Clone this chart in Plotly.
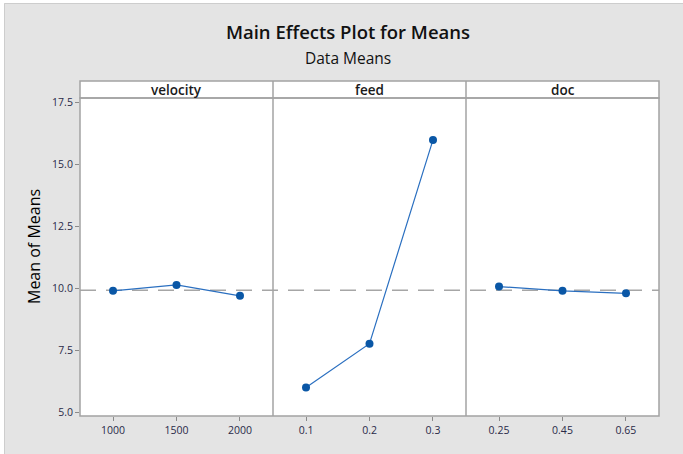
import numpy as np
import plotly.graph_objects as go
from plotly.subplots import make_subplots

# ---- data ----
factors = ["velocity", "feed", "doc"]
velocity_levels = ["1000", "1500", "2000"]
velocity_means = [9.89, 10.13, 9.69]
feed_levels = ["0.1", "0.2", "0.3"]
feed_means = [5.99, 7.76, 15.98]
doc_levels = ["0.25", "0.45", "0.65"]
doc_means = [10.06, 9.89, 9.79]
y_ticks = [5.0, 7.5, 10.0, 12.5, 15.0, 17.5]

levels = [velocity_levels, feed_levels, doc_levels]
means = [velocity_means, feed_means, doc_means]
grand_mean = float(np.mean(velocity_means + feed_means + doc_means))

W, H = 683, 454
ML, MR, MT, MB = 80, 24, 98, 38
PW, PH = W - ML - MR, H - MT - MB


def px(x):
    return (x - ML) / PW


def py(y):
    return (H - MB - y) / PH


FONT = "Open Sans"
BORDER = "#a3a3a3"
TICKFONT = dict(family=FONT, size=10.5, color="#2a2a48")

fig = make_subplots(rows=1, cols=3, shared_yaxes=True, horizontal_spacing=0)

for i, (lv, mv) in enumerate(zip(levels, means)):
    fig.add_trace(
        go.Scatter(
            x=list(range(len(lv))),
            y=mv,
            mode="lines+markers",
            line=dict(color="#2a6fc0", width=1.2),
            marker=dict(color="#0a57a6", size=8, symbol="circle"),
            showlegend=False,
            hoverinfo="skip",
            cliponaxis=False,
        ),
        row=1,
        col=i + 1,
    )
    fig.update_xaxes(
        range=[-0.52, len(lv) - 1 + 0.52],
        tickvals=list(range(len(lv))),
        ticktext=lv,
        showline=False,
        ticks="outside",
        ticklen=4,
        tickcolor="#8a8a8a",
        showgrid=False,
        zeroline=False,
        tickfont=TICKFONT,
        row=1,
        col=i + 1,
    )
    fig.update_yaxes(
        range=[4.84, 17.67],
        tickvals=y_ticks,
        ticktext=[f"{t:.1f}" for t in y_ticks],
        showline=False,
        ticks="outside" if i == 0 else "",
        ticklen=4,
        tickcolor="#8a8a8a",
        showticklabels=(i == 0),
        showgrid=False,
        zeroline=False,
        tickfont=TICKFONT,
        row=1,
        col=i + 1,
    )

shapes = []
annotations = []

# grand mean reference line
shapes.append(
    dict(
        type="line",
        xref="paper",
        yref="y",
        x0=0,
        x1=1,
        y0=grand_mean,
        y1=grand_mean,
        line=dict(color="#a6a6a6", width=1.5, dash="16px,10px"),
        layer="below",
    )
)

# strip background
shapes.append(
    dict(type="rect", xref="paper", yref="paper", x0=0, x1=1, y0=1, y1=py(81),
         line=dict(color=BORDER, width=1.5), fillcolor="white", layer="above")
)
# outer plot border + panel dividers
shapes.append(
    dict(type="rect", xref="paper", yref="paper", x0=0, x1=1, y0=0, y1=1,
         line=dict(color=BORDER, width=1.5), fillcolor="rgba(0,0,0,0)", layer="above")
)
for i in range(1, len(factors)):
    shapes.append(
        dict(type="line", xref=f"x{i + 1} domain", yref="paper", x0=0, x1=0, y0=0, y1=py(81),
             line=dict(color=BORDER, width=1.5), layer="above")
    )

# strip labels
for i, name in enumerate(factors):
    xref = "x domain" if i == 0 else f"x{i + 1} domain"
    annotations.append(
        dict(
            xref=xref,
            yref="paper",
            x=0.5,
            y=(1 + py(81)) / 2,
            text=name,
            showarrow=False,
            xanchor="center",
            yanchor="middle",
            font=dict(family=FONT, size=13.5, color="#1a1a1a", weight=600),
        )
    )

# outer frame (white edge + thin border on top/left)
shapes.append(
    dict(type="rect", xref="paper", yref="paper", x0=px(0), x1=px(4), y0=py(H), y1=py(0),
         line=dict(width=0), fillcolor="white", layer="below")
)
shapes.append(
    dict(type="rect", xref="paper", yref="paper", x0=px(0), x1=px(W), y0=py(3), y1=py(0),
         line=dict(width=0), fillcolor="white", layer="below")
)
shapes.append(
    dict(type="line", xref="paper", yref="paper", x0=px(4.5), x1=px(4.5), y0=py(H), y1=py(3.5),
         line=dict(color="#cdcdcd", width=1), layer="below")
)
shapes.append(
    dict(type="line", xref="paper", yref="paper", x0=px(4.5), x1=px(W), y0=py(3.5), y1=py(3.5),
         line=dict(color="#cdcdcd", width=1), layer="below")
)

# subtitle
annotations.append(
    dict(
        xref="paper",
        yref="paper",
        x=px(348),
        y=py(58),
        text="Data Means",
        showarrow=False,
        xanchor="center",
        yanchor="middle",
        font=dict(family=FONT, size=15.5, color="#111111"),
    )
)
# y-axis title
annotations.append(
    dict(
        xref="paper",
        yref="paper",
        x=px(34),
        y=py(247),
        text="Mean of Means",
        textangle=-90,
        showarrow=False,
        xanchor="center",
        yanchor="middle",
        font=dict(family=FONT, size=16, color="#000000"),
    )
)

fig.update_layout(
    width=W,
    height=H,
    margin=dict(l=ML, r=MR, t=MT, b=MB),
    paper_bgcolor="#e4e4e4",
    plot_bgcolor="white",
    title=dict(
        text="Main Effects Plot for Means",
        x=348 / W,
        xanchor="center",
        xref="container",
        y=1 - 33 / H,
        yanchor="middle",
        yref="container",
        font=dict(family=FONT, size=18.5, color="#111111", weight=600),
    ),
    shapes=shapes,
    annotations=annotations,
)

fig.write_html("out.html")
